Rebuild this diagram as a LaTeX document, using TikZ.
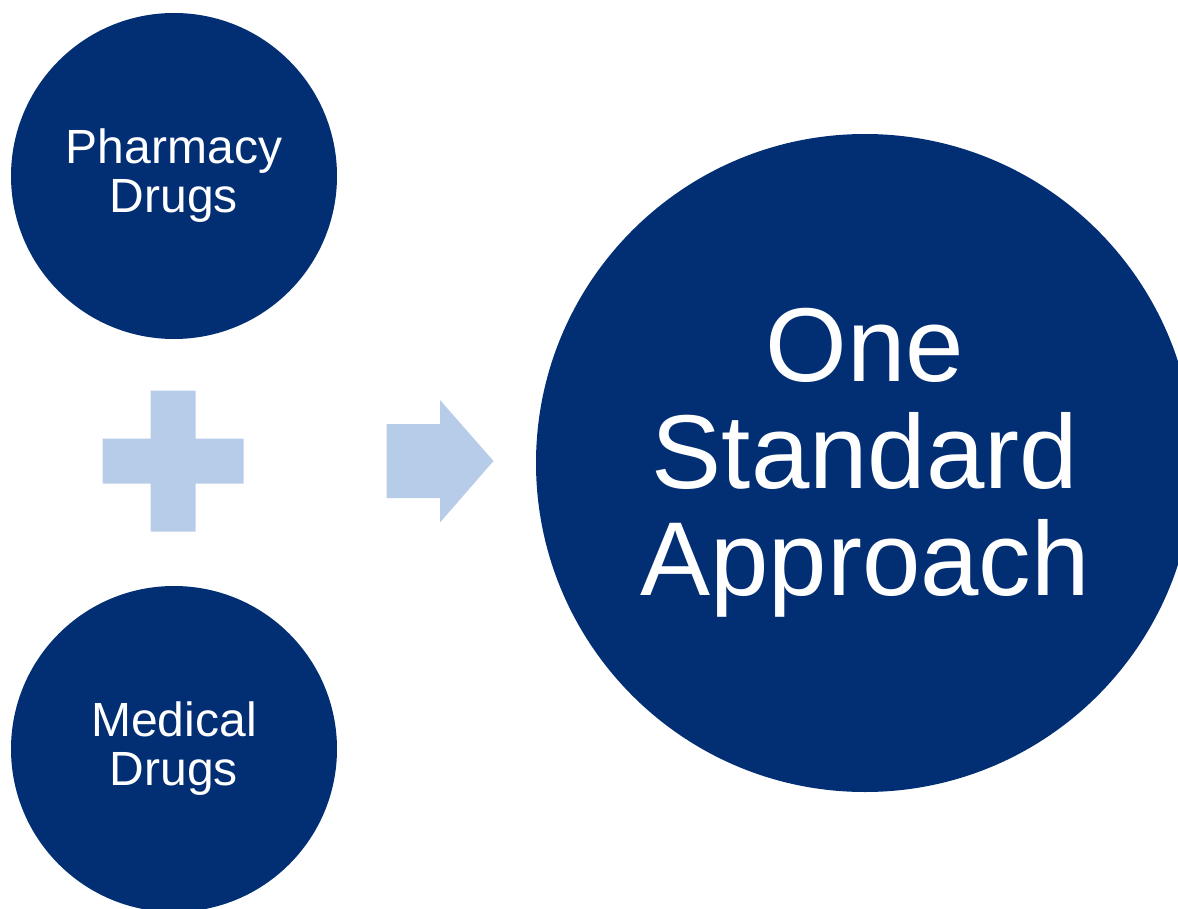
\documentclass[tikz,border=0pt]{standalone}
\usepackage{fontspec}
\setmainfont{Liberation Sans}
\definecolor{navy}{RGB}{2,46,116}
\definecolor{paleblue}{RGB}{183,204,232}
\begin{document}
\begin{tikzpicture}[x=1pt,y=-1pt,
  bubble/.style={circle, fill=navy, text=white, inner sep=0pt, align=center},
  smallbubble/.style={bubble, minimum size=326pt, font=\fontsize{48}{49}\selectfont},
  bigbubble/.style={bubble, minimum size=658pt, font=\fontsize{105}{107}\selectfont},
  sign/.style={fill=paleblue}]
  \useasboundingbox (0,0) rectangle (1178,909);

  % input circles
  \node[smallbubble] (pharmacy) at (174,176) {Pharmacy\\Drugs};
  \node[smallbubble] (medical) at (174,749) {Medical\\Drugs};

  % result circle
  \node[bigbubble] (standard) at (865,463) {One\\Standard\\Approach};

  % plus sign
  \fill[sign] (150.5,390.5) -- (195.5,390.5) -- (195.5,438.5) -- (243.5,438.5)
    -- (243.5,483.5) -- (195.5,483.5) -- (195.5,531.5) -- (150.5,531.5)
    -- (150.5,483.5) -- (102.5,483.5) -- (102.5,438.5) -- (150.5,438.5) -- cycle;

  % block arrow
  \fill[sign] (386.5,424) -- (440,424) -- (440,400) -- (493.5,461)
    -- (440,522.5) -- (440,498) -- (386.5,498) -- cycle;
\end{tikzpicture}
\end{document}
